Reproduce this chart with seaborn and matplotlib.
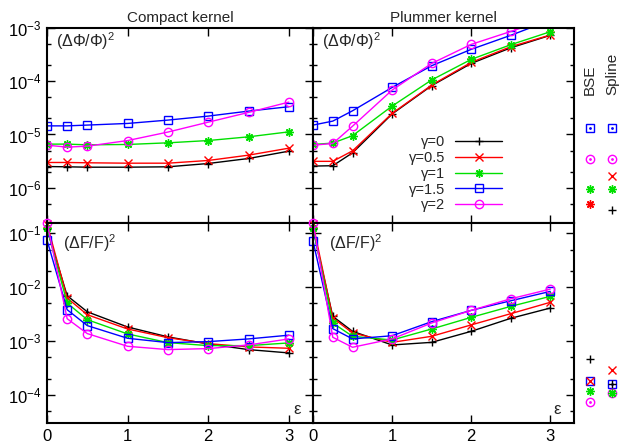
import matplotlib
matplotlib.use("Agg")
import numpy as np
import pandas as pd
import matplotlib.pyplot as plt
import seaborn as sns
from matplotlib.ticker import LogLocator, FixedLocator, NullFormatter, LogFormatterSciNotation

# ---- data ----
eps = [0, 0.25, 0.5, 1, 1.5, 2, 2.5, 3]
gamma_labels = ["γ=0", "γ=0.5", "γ=1", "γ=1.5", "γ=2"]

# (dPhi/Phi)^2, rows: gamma = 0, 0.5, 1, 1.5, 2
phi_compact = [
    [2.51e-6, 2.48e-6, 2.44e-6, 2.44e-6, 2.48e-6, 2.86e-6, 3.55e-6, 4.87e-6],
    [2.99e-6, 2.99e-6, 2.95e-6, 2.90e-6, 2.90e-6, 3.26e-6, 4.10e-6, 5.54e-6],
    [6.6e-6, 6.6e-6, 6.4e-6, 6.5e-6, 6.98e-6, 7.7e-6, 9.04e-6, 1.12e-5],
    [1.45e-5, 1.45e-5, 1.50e-5, 1.61e-5, 1.86e-5, 2.21e-5, 2.74e-5, 3.31e-5],
    [6.3e-6, 5.8e-6, 6.04e-6, 7.7e-6, 1.11e-5, 1.70e-5, 2.59e-5, 4.04e-5],
]
phi_plummer = [
    [2.56e-6, 2.6e-6, 4.53e-6, 2.42e-5, 8.2e-5, 2.14e-4, 4.2e-4, 7.2e-4],
    [3.14e-6, 3.14e-6, 4.94e-6, 2.48e-5, 8.41e-5, 2.24e-4, 4.4e-4, 7.3e-4],
    [6.5e-6, 6.9e-6, 9.5e-6, 3.4e-5, 1.05e-4, 2.55e-4, 4.8e-4, 8.4e-4],
    [1.5e-5, 1.78e-5, 2.78e-5, 7.6e-5, 1.94e-4, 3.93e-4, 7.2e-4, 1.38e-3],
    [6.3e-6, 6.78e-6, 1.43e-5, 6.78e-5, 2.14e-4, 4.87e-4, 8.5e-4, 1.5e-3],
]
# (dF/F)^2
force_compact = [
    [0.12, 6.95e-3, 3.5e-3, 1.83e-3, 1.2e-3, 8.87e-4, 6.97e-4, 6.05e-4],
    [0.15, 6.3e-3, 3.09e-3, 1.68e-3, 1.16e-3, 9.0e-4, 7.82e-4, 7.38e-4],
    [0.124, 5.08e-3, 2.5e-3, 1.36e-3, 9.4e-4, 8.26e-4, 8.26e-4, 9.27e-4],
    [0.075, 3.83e-3, 1.94e-3, 1.13e-3, 9.4e-4, 9.8e-4, 1.1e-3, 1.29e-3],
    [0.158, 2.61e-3, 1.38e-3, 8.03e-4, 6.97e-4, 7.28e-4, 8.5e-4, 1.1e-3],
]
force_plummer = [
    [0.12, 2.88e-3, 1.52e-3, 8.5e-4, 9.5e-4, 1.52e-3, 2.65e-3, 4.11e-3],
    [0.15, 2.69e-3, 1.42e-3, 9.5e-4, 1.23e-3, 2.0e-3, 3.23e-3, 5.25e-3],
    [0.125, 2.17e-3, 1.23e-3, 1.05e-3, 1.68e-3, 2.76e-3, 4.41e-3, 6.77e-3],
    [0.072, 1.71e-3, 1.1e-3, 1.26e-3, 2.3e-3, 3.72e-3, 5.6e-3, 8.36e-3],
    [0.158, 1.18e-3, 7.7e-4, 1.1e-3, 2.17e-3, 3.72e-3, 6.1e-3, 9.22e-3],
]

# reference points drawn to the right of the Plummer panels
bse_phi = [1.30e-5, 3.4e-6, 9.7e-7, 4.9e-7]
spline_phi = [1.30e-5, 3.5e-6, 1.65e-6, 9.7e-7, 3.8e-7]
bse_force = [4.6e-4, 1.86e-4, 1.86e-4, 1.18e-4, 7.3e-5]
spline_force = [2.95e-4, 1.62e-4, 1.62e-4, 1.11e-4, 1.11e-4]

# ---- styles ----
colors = ["black", "#ff0000", "#00e000", "#0000ff", "#ff00ff"]
ASTER = (8, 2, 0)
markers = ["+", "x", ASTER, "s", "o"]
bse_phi_style = [(3, "s"), (4, "o"), (2, ASTER), (1, ASTER)]
spline_phi_style = [(3, "s"), (4, "o"), (1, "x"), (2, ASTER), (0, "+")]
bse_force_style = [(0, "+"), (3, "s"), (1, "x"), (2, ASTER), (4, "o")]
spline_force_style = [(1, "x"), (3, "s"), (0, "+"), (4, "o"), (2, ASTER)]
MS = 6

sns.set_theme(style="ticks")
plt.rcParams["font.family"] = ["Liberation Sans", "DejaVu Sans"]
plt.rcParams["mathtext.default"] = "regular"
plt.rcParams["mathtext.fontset"] = "custom"
plt.rcParams["mathtext.rm"] = "Liberation Sans"

W, H = 620, 445
fig = plt.figure(figsize=(W / 100, H / 100), dpi=100)

def box(x0, x1, y0, y1):
    return [x0 / W, 1 - y1 / H, (x1 - x0) / W, (y1 - y0) / H]

ax_tl = fig.add_axes(box(47, 313, 27.7, 223.3))
ax_tr = fig.add_axes(box(313, 574, 27.7, 223.3))
ax_bl = fig.add_axes(box(47, 313, 223.3, 423.3))
ax_br = fig.add_axes(box(313, 574, 223.3, 423.3))

panels = [
    (ax_tl, phi_compact, (2.17e-7, 1e-3), True),
    (ax_tr, phi_plummer, (2.17e-7, 1e-3), True),
    (ax_bl, force_compact, (3.0e-5, 0.153), False),
    (ax_br, force_plummer, (3.0e-5, 0.153), False),
]

for ax, rows, ylim, clip in panels:
    for i, vals in enumerate(rows):
        df = pd.DataFrame({"eps": eps, "val": vals})
        sns.lineplot(data=df, x="eps", y="val", ax=ax, color=colors[i],
                     marker=markers[i], markersize=MS, mfc="none",
                     mec=colors[i], mew=1.0, linewidth=1.0,
                     label=gamma_labels[i], legend=False, clip_on=clip)
    ax.set_yscale("log")
    ax.set_xlim(0, 3.3)
    ax.set_ylim(*ylim)
    ax.set_xlabel("")
    ax.set_ylabel("")
    ax.xaxis.set_major_locator(FixedLocator([0, 1, 2, 3]))
    ax.yaxis.set_major_locator(LogLocator(base=10, numticks=20))
    ax.yaxis.set_minor_locator(LogLocator(base=10, subs=(2, 5), numticks=20))
    ax.yaxis.set_minor_formatter(NullFormatter())
    ax.yaxis.set_major_formatter(LogFormatterSciNotation())
    ax.tick_params(which="both", direction="in", top=True, right=True,
                   width=1.0, labelsize=12, colors="black", pad=4)
    ax.tick_params(which="major", length=6)
    ax.tick_params(which="minor", length=3)
    for s in ax.spines.values():
        s.set_linewidth(1.5)
        s.set_color("black")

for ax in (ax_tl, ax_tr):
    ax.tick_params(labelbottom=False)
for ax in (ax_tr, ax_br):
    ax.tick_params(labelleft=False)

ax_tl.set_title("Compact kernel", fontsize=11, pad=4)
ax_tr.set_title("Plummer kernel", fontsize=11, pad=4)

for ax in (ax_tl, ax_tr):
    ax.text(0.034, 0.93, "(ΔΦ/Φ)$^{2}$", transform=ax.transAxes,
            fontsize=11.5, ha="left", va="center")
for ax in (ax_bl, ax_br):
    ax.text(0.06, 0.9, "(ΔF/F)$^{2}$", transform=ax.transAxes,
            fontsize=11.5, ha="left", va="center")
ax_bl.text(0.942, 0.067, "ε", transform=ax_bl.transAxes, fontsize=12,
           ha="center", va="center")
ax_br.text(0.934, 0.067, "ε", transform=ax_br.transAxes, fontsize=12,
           ha="center", va="center")

# legend inside the Plummer potential panel
handles, labels = ax_tr.get_legend_handles_labels()
ax_tr.legend(handles, labels, loc="upper right", bbox_to_anchor=(0.724, 0.45),
             frameon=False, markerfirst=False, fontsize=10.5, handlelength=3.2,
             handletextpad=0.7, labelspacing=0.12, borderpad=0, borderaxespad=0)

# BSE / Spline reference points outside the right panels
def side_points(ax, xpos, vals, style):
    for v, (ci, mk) in zip(vals, style):
        ax.plot([xpos], [v], linestyle="none", marker=mk, markersize=MS,
                mfc="none", mec=colors[ci], mew=1.0, clip_on=False)
        if mk in ("s", "o"):
            ax.plot([xpos], [v], linestyle="none", marker=".", markersize=2,
                    color=colors[ci], clip_on=False)

side_points(ax_tr, 3.506, bse_phi, bse_phi_style)
side_points(ax_tr, 3.78, spline_phi, spline_phi_style)
side_points(ax_br, 3.506, bse_force, bse_force_style)
side_points(ax_br, 3.78, spline_force, spline_force_style)

fig.text(590 / W, 1 - 95 / H, "BSE", rotation=90, fontsize=11,
         ha="center", va="bottom")
fig.text(612 / W, 1 - 95 / H, "Spline", rotation=90, fontsize=11,
         ha="center", va="bottom")

fig.savefig("out.png", dpi=100)
